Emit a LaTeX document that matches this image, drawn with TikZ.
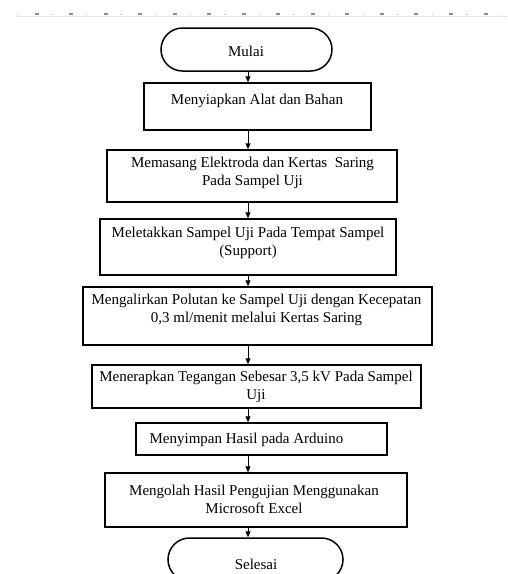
\documentclass[tikz,border=0pt]{standalone}
\usepackage{fontspec}
\setmainfont{Liberation Serif}
\usetikzlibrary{arrows.meta,shapes.misc}
\begin{document}
\begin{tikzpicture}[x=1pt,y=-1pt,
  box/.style={draw=black,line width=1.5pt,rectangle,inner sep=0pt},
  term/.style={draw=black,line width=1.5pt,rounded rectangle,inner sep=0pt},
  txt/.style={font=\fontsize{15}{18}\selectfont,align=center,inner sep=0pt},
  flow/.style={line width=1pt,-{Triangle[length=6pt,width=5pt]}},
  rulerline/.style={draw=black!10,line width=1pt},
  tickdark/.style={draw=black!45,line width=1.2pt},
  ticklight/.style={draw=black!20,line width=1pt}]
\useasboundingbox (0,0) rectangle (507,574);
% ruler
\draw[rulerline] (17,16.5) -- (507,16.5);
\foreach \k in {0,...,13}{
  \draw[tickdark] ({34.5+34.54*\k},14) -- ({38.5+34.54*\k},14);
  \draw[ticklight] ({16.5+34.6*\k},14) -- ({18+34.6*\k},14);
}
\draw[ticklight] (500.5,14) -- (502,14);
% shapes
\node[term,minimum width=171pt,minimum height=43pt] (start) at (246.5,49.5) {};
\node[box,minimum width=227pt,minimum height=47pt] (b1) at (257.5,106.5) {};
\node[box,minimum width=290pt,minimum height=52pt] (b2) at (252,176) {};
\node[box,minimum width=296pt,minimum height=56pt] (b3) at (248,247) {};
\node[box,minimum width=349pt,minimum height=58pt] (b4) at (257.5,316) {};
\node[box,minimum width=329pt,minimum height=43pt] (b5) at (256.5,386.5) {};
\node[box,minimum width=251pt,minimum height=32pt] (b6) at (261.5,439) {};
\node[box,minimum width=302pt,minimum height=54pt] (b7) at (256,500) {};
\node[term,minimum width=175pt,minimum height=43pt] (end) at (255.5,559.5) {};
% texts
\node[txt] (tstart) at (246,51.5) {Mulai};
\node[txt] (t1) at (257,101) {Menyiapkan Alat dan Bahan};
\node[txt] (t2) at (252.5,173) {Memasang Elektroda dan Kertas\ \ Saring\\Pada Sampel Uji};
\node[txt] (t3) at (248,243) {Meletakkan Sampel Uji Pada Tempat Sampel\\(Support)};
\node[txt] (t4) at (256.5,310) {Mengalirkan Polutan ke Sampel Uji dengan Kecepatan\\0,3 ml/menit melalui Kertas Saring};
\node[txt] (t5) at (256,387) {Menerapkan Tegangan Sebesar 3,5 kV Pada Sampel\\Uji};
\node[txt] (t6) at (246.5,440) {Menyimpan Hasil pada Arduino};
\node[txt] (t7) at (254,499) {Mengolah Hasil Pengujian Menggunakan\\Microsoft Excel};
\node[txt] (tend) at (256,564) {Selesai};
% connectors
\coordinate (ax) at (248,0);
\draw[flow] (start.south -| ax) -- (b1.north -| ax);
\draw[flow] (b1.south -| ax) -- (b2.north -| ax);
\draw[flow] (b2.south -| ax) -- (b3.north -| ax);
\draw[flow] (b3.south -| ax) -- (b4.north -| ax);
\draw[flow] (b4.south -| ax) -- (b5.north -| ax);
\draw[flow] (b5.south -| ax) -- (b6.north -| ax);
\draw[flow] (b6.south -| ax) -- (b7.north -| ax);
\draw[flow] (b7.south -| ax) -- (end.north -| ax);
\end{tikzpicture}
\end{document}
